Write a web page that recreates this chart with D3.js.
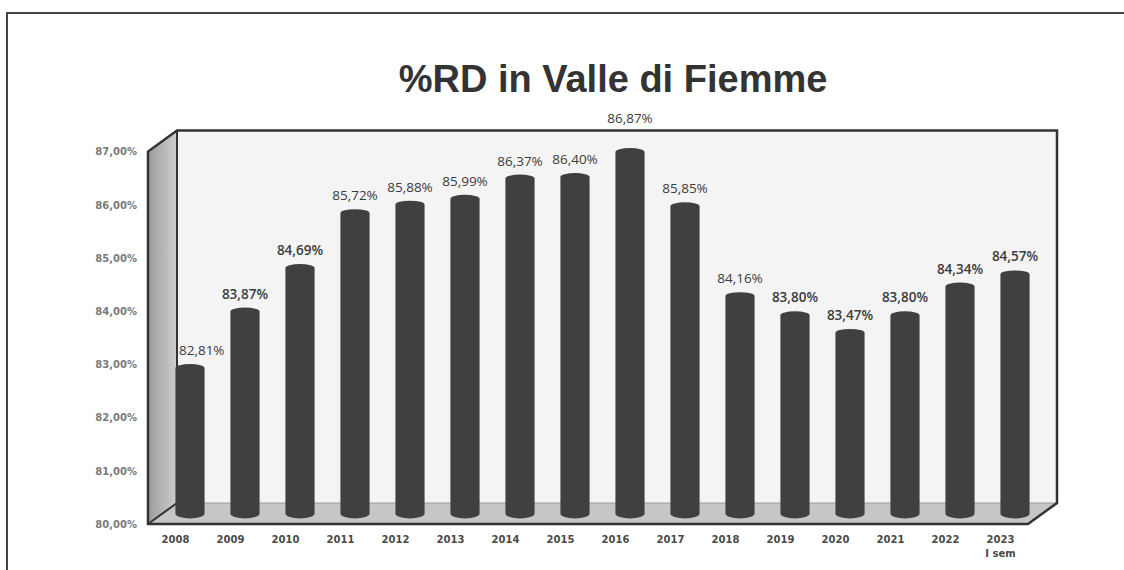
<!DOCTYPE html>
<html>
<head>
<meta charset="utf-8">
<script src="https://cdn.jsdelivr.net/npm/d3@7"></script>
<style>
  html, body { margin: 0; padding: 0; background: #fff; }
  svg { display: block; }
</style>
</head>
<body>
<div id="chart"></div>
<script>
// %RD in Valle di Fiemme - 3D-style column chart

const years = ['2008', '2009', '2010', '2011', '2012', '2013', '2014', '2015',
               '2016', '2017', '2018', '2019', '2020', '2021', '2022', '2023'];
const yearLabels = ['2008', '2009', '2010', '2011', '2012', '2013', '2014', '2015',
                    '2016', '2017', '2018', '2019', '2020', '2021', '2022', '2023\nI sem'];
const values = [82.81, 83.87, 84.69, 85.72, 85.88, 85.99, 86.37, 86.40,
                86.87, 85.85, 84.16, 83.80, 83.47, 83.80, 84.34, 84.57];
const yTicks = [80, 81, 82, 83, 84, 85, 86, 87];
const boldYears = ['2009', '2010', '2019', '2020', '2021', '2022', '2023'];

const W = 1124, H = 570;
const DEPTH_X = 29, DEPTH_Y = -21;   // offset of the back wall
const BAR_COLOR = '#404040';

const it = d3.formatLocale({ decimal: ',', thousands: '.', grouping: [3], currency: ['', '€'] });
const fmt = it.format('.2f');

const svg = d3.select('#chart').append('svg')
  .attr('width', W)
  .attr('height', H);

// outer frame (left + top only, the rest is off the page)
svg.append('path')
  .attr('d', `M7,${H} L7,13 L${W},13`)
  .attr('fill', 'none')
  .attr('stroke', '#444')
  .attr('stroke-width', 2);

// title
svg.append('text')
  .attr('x', 613)
  .attr('y', 92)
  .attr('text-anchor', 'middle')
  .attr('font-family', "'Liberation Sans', Arial, sans-serif")
  .attr('font-weight', 'bold')
  .attr('font-size', 38)
  .attr('fill', '#333')
  .text('%RD in Valle di Fiemme');

// scales (front plane)
const x = d3.scaleBand()
  .domain(years)
  .range([148, 1028])
  .paddingInner(0.47)
  .paddingOuter(0.235);

const y = d3.scaleLinear()
  .domain([80, 87])
  .range([524, 151.6]);

const x0 = x.range()[0], x1 = x.range()[1];
const yB = y(80), yT = y(87);

// gradient for the side wall
const defs = svg.append('defs');
const grad = defs.append('linearGradient')
  .attr('id', 'sideGrad')
  .attr('x1', 0).attr('x2', 1).attr('y1', 0).attr('y2', 0);
grad.append('stop').attr('offset', '0%').attr('stop-color', '#9c9c9c');
grad.append('stop').attr('offset', '100%').attr('stop-color', '#cfcfcf');

// back wall
svg.append('rect')
  .attr('x', x0 + DEPTH_X)
  .attr('y', yT + DEPTH_Y)
  .attr('width', x1 - x0)
  .attr('height', yB - yT)
  .attr('fill', '#f4f4f4');

// side wall
svg.append('polygon')
  .attr('points', [
    [x0, yT], [x0 + DEPTH_X, yT + DEPTH_Y],
    [x0 + DEPTH_X, yB + DEPTH_Y], [x0, yB]
  ].join(' '))
  .attr('fill', 'url(#sideGrad)');

// floor
svg.append('polygon')
  .attr('points', [
    [x0, yB], [x0 + DEPTH_X, yB + DEPTH_Y],
    [x1 + DEPTH_X, yB + DEPTH_Y], [x1, yB]
  ].join(' '))
  .attr('fill', '#c6c6c6');

svg.append('line')
  .attr('x1', x0 + DEPTH_X).attr('x2', x1 + DEPTH_X)
  .attr('y1', yB + DEPTH_Y).attr('y2', yB + DEPTH_Y)
  .attr('stroke', '#9a9a9a')
  .attr('stroke-width', 1);

// outlines of the box
svg.append('path')
  .attr('d', `M${x0},${yB} L${x0},${yT} L${x0 + DEPTH_X},${yT + DEPTH_Y} L${x1 + DEPTH_X},${yT + DEPTH_Y}` +
             ` L${x1 + DEPTH_X},${yB + DEPTH_Y} L${x1},${yB} Z`)
  .attr('fill', 'none')
  .attr('stroke', '#333')
  .attr('stroke-width', 2.5)
  .attr('stroke-linejoin', 'miter');

svg.append('path')
  .attr('d', `M${x0 + DEPTH_X},${yT + DEPTH_Y} L${x0 + DEPTH_X},${yB + DEPTH_Y} L${x0},${yB}`)
  .attr('fill', 'none')
  .attr('stroke', '#333')
  .attr('stroke-width', 2);

// bars as cylinders, standing half-way into the depth
const r = x.bandwidth() / 2;
const topRy = 4, botRy = 5;
const barCx = d => x(d) + r + DEPTH_X / 2;
const barTop = v => y(v) + DEPTH_Y / 2;
const barBase = y(80) + DEPTH_Y / 2;

const data = years.map((yr, i) => ({ year: yr, value: values[i] }));

svg.append('g')
  .selectAll('path')
  .data(data)
  .join('path')
  .attr('fill', BAR_COLOR)
  .attr('d', d => {
    const cx = barCx(d.year), t = barTop(d.value);
    return `M${cx - r},${t + topRy} A${r},${topRy} 0 0 1 ${cx + r},${t + topRy}` +
           ` L${cx + r},${barBase} A${r},${botRy} 0 0 1 ${cx - r},${barBase} Z`;
  });

// value labels
const boxTop = yT + DEPTH_Y;
const wallX = x0 + DEPTH_X;
svg.append('g')
  .selectAll('text')
  .data(data)
  .join('text')
  .attr('y', d => {
    const base = barTop(d.value) - 9;
    return base - 11 < boxTop + 2 ? boxTop - 8 : base;
  })
  .attr('text-anchor', 'middle')
  .attr('font-family', "'Open Sans', 'Noto Sans', sans-serif")
  .attr('font-size', 13.5)
  .attr('font-weight', d => boldYears.includes(d.year) ? 600 : 400)
  .attr('fill', '#3c3c3c')
  .text(d => fmt(d.value) + '%')
  .attr('x', function(d) {
    // keep labels clear of the side wall
    const w = this.getComputedTextLength();
    return Math.max(barCx(d.year), wallX + w / 2 + 2);
  });

// y axis labels
const yAxis = svg.append('g')
  .attr('transform', `translate(${x0},0)`)
  .call(d3.axisLeft(y).tickValues(yTicks).tickSize(0).tickPadding(11)
    .tickFormat(d => fmt(d) + '%'));
yAxis.select('.domain').remove();
yAxis.selectAll('text')
  .attr('font-family', "'DejaVu Sans', Verdana, sans-serif")
  .attr('font-weight', 'bold')
  .attr('font-size', 10)
  .attr('fill', '#7a7a7a');

// x axis labels
const xAxis = svg.append('g')
  .attr('transform', `translate(0,${yB})`)
  .call(d3.axisBottom(x).tickSize(0).tickPadding(12)
    .tickFormat((d, i) => yearLabels[i]));
xAxis.select('.domain').remove();
xAxis.selectAll('text')
  .attr('font-family', "'DejaVu Sans', Verdana, sans-serif")
  .attr('font-weight', 'bold')
  .attr('font-size', 10)
  .attr('fill', '#4a4a4a')
  .each(function(d, i) {
    const lines = yearLabels[i].split('\n');
    if (lines.length < 2) return;
    const el = d3.select(this);
    const dy = el.attr('dy');
    el.text(null);
    lines.forEach((ln, k) => {
      el.append('tspan')
        .attr('x', 0)
        .attr('dy', k === 0 ? dy : '1.4em')
        .text(ln);
    });
  });
</script>
</body>
</html>
